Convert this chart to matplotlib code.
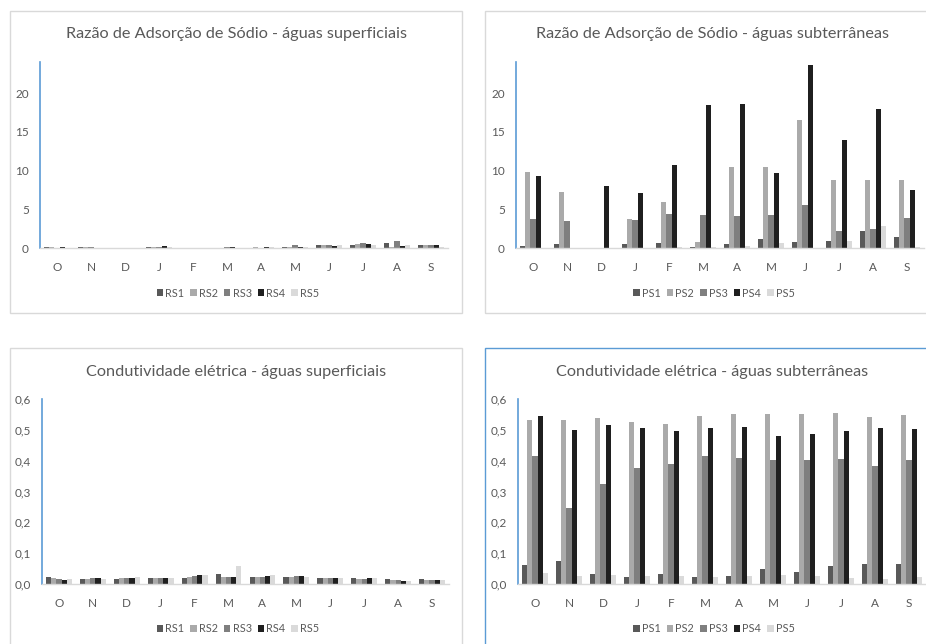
import matplotlib
matplotlib.use("Agg")
import matplotlib.pyplot as plt
from matplotlib.patches import Rectangle
from matplotlib.ticker import FuncFormatter
import numpy as np

plt.rcParams['font.family'] = ['Lato', 'DejaVu Sans']

months = ["O", "N", "D", "J", "F", "M", "A", "M", "J", "J", "A", "S"]
rs_names = ["RS1", "RS2", "RS3", "RS4", "RS5"]
ps_names = ["PS1", "PS2", "PS3", "PS4", "PS5"]
colors = ["#595959", "#aaaaaa", "#7f7f7f", "#1f1f1f", "#dadada"]

# Razão de Adsorção de Sódio - águas superficiais
ras_rs1 = [0.10, 0.10, 0.0, 0.15, 0.0, 0.0, 0.0, 0.10, 0.45, 0.35, 0.65, 0.45]
ras_rs2 = [0.10, 0.10, 0.0, 0.15, 0.0, 0.05, 0.10, 0.15, 0.35, 0.50, 0.15, 0.35]
ras_rs3 = [0.05, 0.10, 0.0, 0.10, 0.0, 0.10, 0.0, 0.40, 0.40, 0.60, 0.95, 0.35]
ras_rs4 = [0.12, 0.0, 0.0, 0.30, 0.0, 0.10, 0.10, 0.15, 0.20, 0.50, 0.30, 0.40]
ras_rs5 = [0.0, 0.0, 0.0, 0.10, 0.0, 0.0, 0.10, 0.10, 0.40, 0.35, 0.35, 0.10]

# Razão de Adsorção de Sódio - águas subterrâneas
ras_ps1 = [0.2, 0.56, 0.0, 0.47, 0.65, 0.17, 0.47, 1.2, 0.73, 0.95, 2.15, 1.38]
ras_ps2 = [9.76, 7.18, 0.0, 3.7, 5.9, 0.82, 10.5, 10.4, 16.47, 8.82, 8.82, 8.82]
ras_ps3 = [3.7, 3.44, 0.0, 3.66, 4.43, 4.3, 4.13, 4.2, 5.55, 2.15, 2.41, 3.83]
ras_ps4 = [9.33, 0.0, 7.96, 7.1, 10.67, 18.45, 18.6, 9.63, 23.57, 13.94, 17.98, 7.44]
ras_ps5 = [0.0, 0.0, 0.0, 0.0, 0.17, 0.15, 0.3, 0.69, 0.0, 0.86, 2.88, 0.15]

# Condutividade elétrica - águas superficiais
ce_rs1 = [0.023, 0.016, 0.016, 0.020, 0.020, 0.034, 0.023, 0.024, 0.020, 0.020, 0.017, 0.017]
ce_rs2 = [0.018, 0.016, 0.018, 0.018, 0.024, 0.023, 0.022, 0.024, 0.019, 0.017, 0.013, 0.012]
ce_rs3 = [0.016, 0.020, 0.018, 0.018, 0.027, 0.024, 0.024, 0.027, 0.020, 0.017, 0.014, 0.012]
ce_rs4 = [0.014, 0.018, 0.018, 0.020, 0.029, 0.023, 0.025, 0.025, 0.020, 0.020, 0.011, 0.012]
ce_rs5 = [0.016, 0.016, 0.023, 0.018, 0.029, 0.060, 0.030, 0.023, 0.018, 0.018, 0.010, 0.012]

# Condutividade elétrica - águas subterrâneas
ce_ps1 = [0.062, 0.076, 0.031, 0.023, 0.034, 0.023, 0.025, 0.049, 0.038, 0.059, 0.064, 0.064]
ce_ps2 = [0.532, 0.532, 0.539, 0.524, 0.520, 0.546, 0.550, 0.550, 0.552, 0.556, 0.542, 0.548]
ce_ps3 = [0.416, 0.246, 0.325, 0.377, 0.390, 0.414, 0.410, 0.401, 0.403, 0.405, 0.384, 0.403]
ce_ps4 = [0.545, 0.499, 0.517, 0.506, 0.497, 0.506, 0.510, 0.481, 0.488, 0.497, 0.506, 0.502]
ce_ps5 = [0.036, 0.025, 0.028, 0.025, 0.027, 0.023, 0.027, 0.029, 0.025, 0.020, 0.016, 0.023]

W, H = 926, 644
fig = plt.figure(figsize=(W / 100, H / 100), dpi=100)
fig.patch.set_facecolor("white")


def px_axes(x0, y0, x1, y1):
    return fig.add_axes([x0 / W, 1 - y1 / H, (x1 - x0) / W, (y1 - y0) / H])


def frame(x0, y0, x1, y1, color):
    fig.patches.append(Rectangle((x0 / W, 1 - y1 / H), (x1 - x0) / W, (y1 - y0) / H,
                                 transform=fig.transFigure, fill=False,
                                 edgecolor=color, linewidth=1.0))


def comma(v, pos):
    return ("%.1f" % v).replace(".", ",")


def panel(box, series, names, ymax, yticks, title, title_xy, legend_xy, decimal):
    ax = px_axes(*box)
    x = np.arange(len(months))
    w = 0.152
    for i, (vals, name) in enumerate(zip(series, names)):
        ax.bar(x + (i - 2) * w, vals, width=w, color=colors[i], label=name, linewidth=0)
    ax.set_xlim(-0.5, len(months) - 0.5)
    ax.set_ylim(0, ymax)
    ax.set_xticks(x)
    ax.set_xticklabels(months)
    ax.set_yticks(yticks)
    if decimal:
        ax.yaxis.set_major_formatter(FuncFormatter(comma))
    ax.tick_params(length=0, colors="#595959", labelsize=8.5)
    ax.tick_params(axis="x", pad=10)
    ax.tick_params(axis="y", pad=8)
    for s in ["top", "right"]:
        ax.spines[s].set_visible(False)
    ax.spines["left"].set_color("#5b9bd5")
    ax.spines["bottom"].set_color("#d9d9d9")
    ax.spines["left"].set_linewidth(1.2)
    ax.spines["bottom"].set_linewidth(1.0)
    fig.text(title_xy[0] / W, 1 - title_xy[1] / H, title, ha="center", va="center",
             fontsize=11.7, color="#595959")
    ax.legend(loc="center", bbox_to_anchor=(legend_xy[0] / W, 1 - legend_xy[1] / H),
              bbox_transform=fig.transFigure, ncol=5, frameon=False, fontsize=7.8,
              handlelength=0.6, handleheight=0.6, handletextpad=0.2,
              columnspacing=0.55, labelcolor="#595959")
    return ax


frame(10, 11, 462, 313, "#d9d9d9")
frame(485, 11, 940, 313, "#d9d9d9")
frame(10, 348, 462, 660, "#d9d9d9")
frame(485, 348, 940, 660, "#5b9bd5")

panel((40, 62, 448, 248), [ras_rs1, ras_rs2, ras_rs3, ras_rs4, ras_rs5], rs_names,
      24, [0, 5, 10, 15, 20], "Razão de Adsorção de Sódio - águas superficiais",
      (236, 34), (238, 293), False)
panel((516, 62, 924, 248), [ras_ps1, ras_ps2, ras_ps3, ras_ps4, ras_ps5], ps_names,
      24, [0, 5, 10, 15, 20], "Razão de Adsorção de Sódio - águas subterrâneas",
      (712, 34), (714, 293), False)
panel((42, 399, 449, 584), [ce_rs1, ce_rs2, ce_rs3, ce_rs4, ce_rs5], rs_names,
      0.6, [0, 0.1, 0.2, 0.3, 0.4, 0.5, 0.6], "Condutividade elétrica - águas superficiais",
      (236, 372), (238, 629), True)
panel((518, 399, 926, 584), [ce_ps1, ce_ps2, ce_ps3, ce_ps4, ce_ps5], ps_names,
      0.6, [0, 0.1, 0.2, 0.3, 0.4, 0.5, 0.6], "Condutividade elétrica - águas subterrâneas",
      (712, 372), (714, 629), True)

fig.savefig("out.png", dpi=100)
